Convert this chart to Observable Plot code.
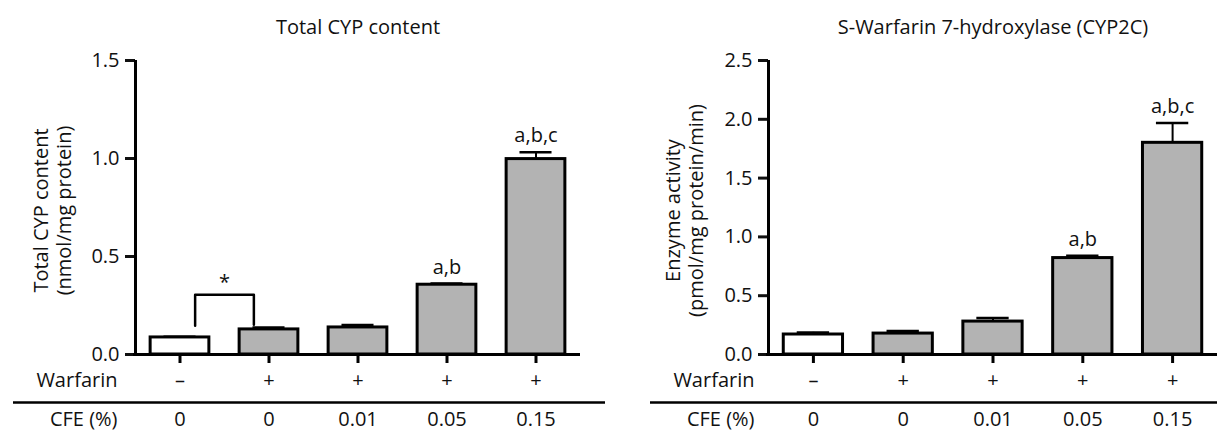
<!DOCTYPE html>
<html>
<head>
<meta charset="utf-8">
<script src="https://cdn.jsdelivr.net/npm/d3@7"></script>
<script src="https://cdn.jsdelivr.net/npm/@observablehq/plot@0.6"></script>
<style>
  body { margin: 0; background: #fff; }
  #wrap { display: flex; width: 1217px; height: 432px; }
  #wrap svg { overflow: visible; }
</style>
</head>
<body>
<div id="wrap"></div>
<script>
// ---- data ----
const groups = [0, 1, 2, 3, 4];
const warfarin = ["–", "+", "+", "+", "+"];
const cfe = ["0", "0", "0.01", "0.05", "0.15"];

const cypTitle = "Total CYP content";
const cypYLabel = "Total CYP content\n(nmol/mg protein)";
const cypValues = [0.087, 0.128, 0.138, 0.356, 0.997];
const cypErrors = [0.004, 0.010, 0.012, 0.006, 0.035];
const cypLabels = ["", "", "", "a,b", "a,b,c"];
const cypTicks = [0, 0.5, 1.0, 1.5];

const hydTitle = "S-Warfarin 7-hydroxylase (CYP2C)";
const hydYLabel = "Enzyme activity\n(pmol/mg protein/min)";
const hydValues = [0.170, 0.178, 0.280, 0.820, 1.800];
const hydErrors = [0.018, 0.022, 0.030, 0.020, 0.168];
const hydLabels = ["", "", "", "a,b", "a,b,c"];
const hydTicks = [0, 0.5, 1.0, 1.5, 2.0, 2.5];

// significance bracket between group 0 and group 1 (left panel)
const bracketX = [0.17, 0.17, 0.83, 0.83];
const bracketY = [0.147, 0.305, 0.305, 0.152];
const bracketText = "*";

const FONT = "Open Sans";
const FS = 20;

function panel(o) {
  const yMax = o.ticks[o.ticks.length - 1];
  const marks = [
    Plot.rectY(groups, {
      x1: i => i - 0.33, x2: i => i + 0.33,
      y1: 0, y2: i => o.values[i],
      fill: i => (i === 0 ? "white" : "#b3b3b3"),
      stroke: "black", strokeWidth: 3
    }),
    Plot.ruleX(groups, {x: i => i, y1: i => o.values[i], y2: i => o.values[i] + o.errors[i], stroke: "black", strokeWidth: 2}),
    Plot.ruleY(groups, {y: i => o.values[i] + o.errors[i], x1: i => i - 0.18, x2: i => i + 0.18, stroke: "black", strokeWidth: 2.5}),
    Plot.text(groups, {x: i => i, y: i => o.values[i] + o.errors[i], text: i => o.labels[i], dy: -10, lineAnchor: "bottom", fontSize: FS, fill: "#111"}),
    Plot.axisY({ticks: o.ticks, tickFormat: d3.format(".1f"), tickSize: 10, tickPadding: 6, strokeWidth: 3, label: null, fontSize: FS, color: "#111"}),
    Plot.ruleX([-0.5], {y1: 0, y2: yMax, stroke: "black", strokeWidth: 3}),
    Plot.ruleY([0], {stroke: "black", strokeWidth: 3, insetLeft: -2}),
    Plot.axisX({ticks: groups, tickSize: 9, strokeWidth: 3, tickFormat: () => "", label: null}),
    Plot.text(groups, {x: i => i, y: 0, text: i => warfarin[i], dy: 26, fontSize: FS, fill: "#111"}),
    Plot.text(["Warfarin"], {x: -0.5, y: 0, dx: o.rowDx, dy: 26, textAnchor: "end", fontSize: FS, fill: "#111"}),
    Plot.ruleY([0], {dy: 48, insetLeft: o.lineInsetLeft, insetRight: o.lineInsetRight, stroke: "black", strokeWidth: 2.5}),
    Plot.text(groups, {x: i => i, y: 0, text: i => cfe[i], dy: 65, fontSize: FS, fill: "#111"}),
    Plot.text(["CFE (%)"], {x: -0.5, y: 0, dx: o.rowDx, dy: 65, textAnchor: "end", fontSize: FS, fill: "#111"}),
    Plot.text([o.title], {frameAnchor: "top", dy: -33, lineAnchor: "middle", textAnchor: "middle", fontSize: FS, fill: "#111"}),
    Plot.text([o.yLabel], {frameAnchor: "left", dx: o.yLabelDx, dy: 3, rotate: -90, textAnchor: "middle", lineAnchor: "middle", lineHeight: 1.15, fontSize: FS, fill: "#111"})
  ];
  if (o.extra) marks.push(...o.extra);
  return Plot.plot({
    width: o.width,
    height: 432,
    marginTop: 60,
    marginBottom: 78,
    marginLeft: o.marginLeft,
    marginRight: o.marginRight,
    style: {fontFamily: FONT, fontSize: FS + "px", background: "white", overflow: "visible"},
    x: {type: "linear", domain: [-0.5, 4.5], axis: null},
    y: {domain: [0, yMax], axis: null},
    marks
  });
}

const left = panel({
  width: 608, marginLeft: 135, marginRight: 28,
  values: cypValues, errors: cypErrors, labels: cypLabels, ticks: cypTicks,
  title: cypTitle, yLabel: cypYLabel, yLabelDx: -83,
  rowDx: -18, lineInsetLeft: -122, lineInsetRight: -25,
  extra: [
    Plot.line(bracketX.map((x, k) => ({x, y: bracketY[k]})), {x: "x", y: "y", stroke: "black", strokeWidth: 2.5}),
    Plot.text([bracketText], {x: 0.5, y: bracketY[1], dy: -6, lineAnchor: "bottom", fontSize: FS, fill: "#111"})
  ]
});

const right = panel({
  width: 609, marginLeft: 160, marginRight: 0,
  values: hydValues, errors: hydErrors, labels: hydLabels, ticks: hydTicks,
  title: hydTitle, yLabel: hydYLabel, yLabelDx: -84.5,
  rowDx: -14, lineInsetLeft: -118, lineInsetRight: 0
});

document.getElementById("wrap").append(left, right);
</script>
</body>
</html>
